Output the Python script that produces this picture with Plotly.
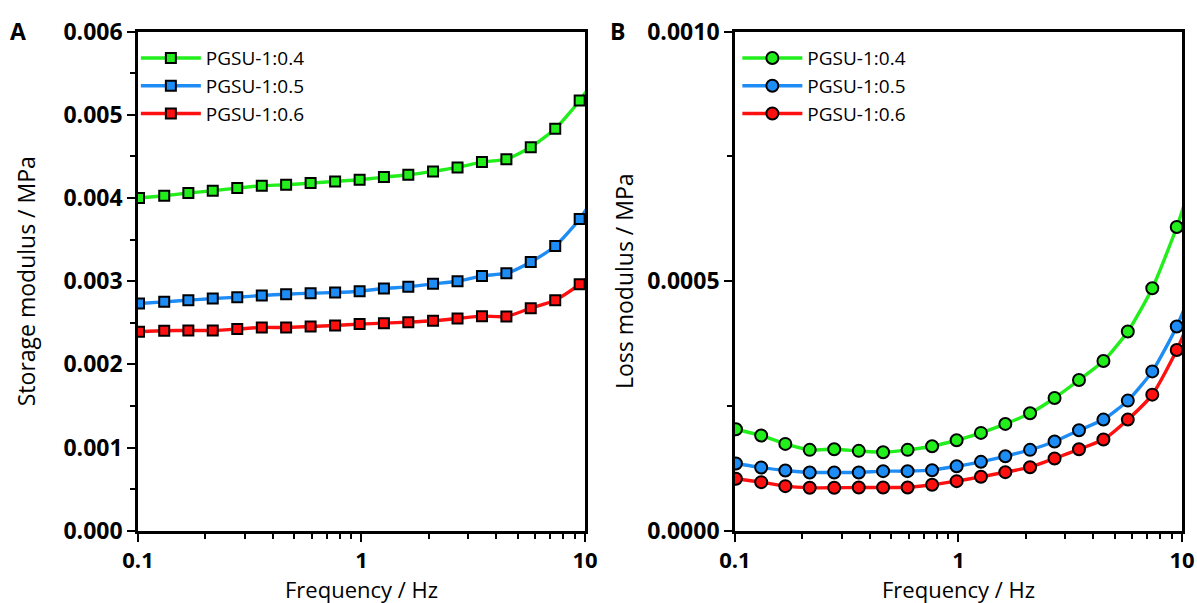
import plotly.graph_objects as go

# Oscillation frequency (Hz); the last point lies just past the axis limit
freq = [0.101, 0.131, 0.168, 0.216, 0.278, 0.358, 0.460, 0.592, 0.762, 0.981,
        1.26, 1.62, 2.09, 2.69, 3.46, 4.45, 5.72, 7.36, 9.47, 12.2]

series_names = ["PGSU-1:0.4", "PGSU-1:0.5", "PGSU-1:0.6"]
series_colors = ["#22ee1c", "#1e8cf5", "#ff1010"]

# Storage modulus G' (MPa)
storage_04 = [0.00400, 0.004028, 0.00406, 0.004088, 0.00412, 0.004148, 0.00416, 0.00418,
              0.00420, 0.00422, 0.004252, 0.00428, 0.00432, 0.004368, 0.004432, 0.004468,
              0.004612, 0.004832, 0.005172, 0.00560]
storage_05 = [0.002732, 0.002752, 0.002772, 0.002792, 0.002808, 0.002828, 0.002844, 0.002856,
              0.002864, 0.00288, 0.002912, 0.002932, 0.002968, 0.00300, 0.003064, 0.003096,
              0.003232, 0.003424, 0.003748, 0.00420]
storage_06 = [0.002392, 0.002404, 0.002408, 0.002408, 0.002424, 0.002444, 0.002444, 0.002456,
              0.002468, 0.002484, 0.002496, 0.002508, 0.002524, 0.002552, 0.00258, 0.002576,
              0.002676, 0.002772, 0.002964, 0.00322]

# Loss modulus G'' (MPa)
loss_04 = [0.0002033, 0.0001907, 0.000174, 0.000162, 0.0001633, 0.00016, 0.0001573, 0.000162,
           0.0001693, 0.0001813, 0.000196, 0.000214, 0.0002353, 0.000266, 0.000302, 0.00034,
           0.0003993, 0.000486, 0.0006087, 0.00076]
loss_05 = [0.0001347, 0.0001267, 0.0001207, 0.0001167, 0.0001167, 0.0001167, 0.0001193, 0.0001193,
           0.0001213, 0.0001293, 0.000138, 0.0001493, 0.000162, 0.0001787, 0.0002013, 0.0002227,
           0.0002607, 0.0003193, 0.0004093, 0.00053]
loss_06 = [0.000104, 0.0000973, 0.0000893, 0.000086, 0.000086, 0.0000867, 0.0000867, 0.0000867,
           0.000092, 0.0000993, 0.000108, 0.0001173, 0.0001273, 0.0001447, 0.0001633, 0.0001827,
           0.0002227, 0.0002727, 0.000362, 0.00048]

storage_data = [storage_04, storage_05, storage_06]
loss_data = [loss_04, loss_05, loss_06]

x_ticks = [0.1, 1, 10]
x_tick_text = ["0.1", "1", "10"]
x_minor = [0.2, 0.3, 0.4, 0.5, 0.6, 0.7, 0.8, 0.9, 2, 3, 4, 5, 6, 7, 8, 9]

FONT = "Open Sans"

fig = go.Figure()

for i, (name, color, ys) in enumerate(zip(series_names, series_colors, storage_data)):
    fig.add_trace(go.Scatter(
        x=freq, y=ys, name=name, mode="lines+markers", legendgroup=f"g{i}",
        line=dict(color=color, width=3.4, shape="spline", smoothing=0.6),
        marker=dict(symbol="square", size=10, color=color, line=dict(color="black", width=2)),
        xaxis="x", yaxis="y", legend="legend",
    ))

for i, (name, color, ys) in enumerate(zip(series_names, series_colors, loss_data)):
    fig.add_trace(go.Scatter(
        x=freq, y=ys, name=name, mode="lines+markers", legendgroup=f"h{i}",
        line=dict(color=color, width=3.4, shape="spline", smoothing=0.6),
        marker=dict(symbol="circle", size=12, color=color, line=dict(color="black", width=2)),
        xaxis="x2", yaxis="y2", legend="legend2",
    ))

title_font = dict(family=FONT, size=23, color="black")
xtitle_font = dict(family=FONT, size=22, color="black")
tick_font = dict(family=FONT, size=23, color="black", weight="bold")
xtick_font = dict(family=FONT, size=22, color="black", weight="bold")

xaxis_common = dict(
    type="log", range=[-1, 1], tickvals=x_ticks, ticktext=x_tick_text,
    ticks="outside", ticklen=8, tickwidth=2, tickcolor="black",
    minor=dict(tickvals=x_minor, ticks="outside", ticklen=5, tickwidth=1.5, tickcolor="black"),
    showline=True, linewidth=2.6, linecolor="black", mirror=True,
    showgrid=False, zeroline=False, automargin=False,
    tickfont=xtick_font,
)
yaxis_common = dict(
    ticks="outside", ticklen=8, tickwidth=2, tickcolor="black",
    showline=True, linewidth=2.6, linecolor="black", mirror=True,
    showgrid=False, zeroline=False, automargin=False,
    tickfont=tick_font,
)

legend_common = dict(
    font=dict(family=FONT, size=19, color="black"),
    bgcolor="rgba(0,0,0,0)", borderwidth=0,
    itemwidth=60, tracegroupgap=0,
    xanchor="left", yanchor="top",
)

x_domain_a = [0.1153, 0.4887]
x_domain_b = [0.6140, 0.9875]

fig.update_layout(
    width=1197, height=603,
    margin=dict(l=0, r=0, t=0, b=0),
    paper_bgcolor="white", plot_bgcolor="white",
    xaxis=dict(domain=x_domain_a, anchor="y", **xaxis_common),
    yaxis=dict(domain=[0.1199, 0.9474], anchor="x", range=[0, 0.006], dtick=0.001,
               tickformat=".3f",
               minor=dict(dtick=0.0005, ticks="outside", ticklen=5, tickwidth=1.5, tickcolor="black"),
               title=dict(text="Storage modulus / MPa", font=title_font, standoff=22),
               **yaxis_common),
    xaxis2=dict(domain=x_domain_b, anchor="y2", **xaxis_common),
    yaxis2=dict(domain=[0.1199, 0.9474], anchor="x2", range=[0, 0.001],
                tickvals=[0, 0.0005, 0.001], tickformat=".4f",
                minor=dict(dtick=0.00025, ticks="outside", ticklen=5, tickwidth=1.5, tickcolor="black"),
                title=dict(text="Loss modulus / MPa", font=title_font, standoff=8),
                **yaxis_common),
    legend=dict(x=0.1135, y=0.935, **legend_common),
    legend2=dict(x=0.616, y=0.935, **legend_common),
    annotations=[
        dict(text="A", x=0.015, y=0.948, xref="paper", yref="paper", xanchor="center", yanchor="middle",
             showarrow=False, font=dict(family=FONT, size=23, color="black", weight="bold")),
        dict(text="B", x=0.516, y=0.948, xref="paper", yref="paper", xanchor="center", yanchor="middle",
             showarrow=False, font=dict(family=FONT, size=23, color="black", weight="bold")),
        # x-axis titles sit just under the tick labels, near the bottom edge
        dict(text="Frequency / Hz", x=sum(x_domain_a) / 2, y=0.0, xref="paper", yref="paper",
             xanchor="center", yanchor="bottom", yshift=-2, borderpad=0, showarrow=False, font=xtitle_font),
        dict(text="Frequency / Hz", x=sum(x_domain_b) / 2, y=0.0, xref="paper", yref="paper",
             xanchor="center", yanchor="bottom", yshift=-2, borderpad=0, showarrow=False, font=xtitle_font),
    ],
)

fig.write_html("out.html")
